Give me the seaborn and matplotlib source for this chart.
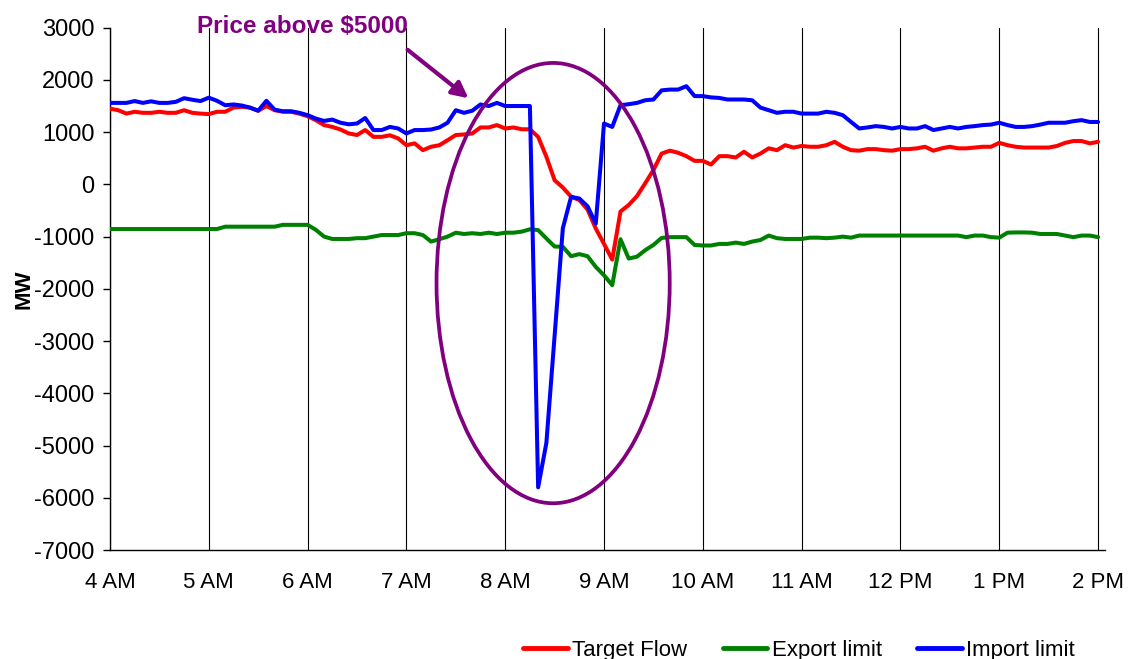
import numpy as np
import pandas as pd
import matplotlib
matplotlib.use('Agg')
import matplotlib.pyplot as plt
import seaborn as sns
from matplotlib.patches import Ellipse
from matplotlib.lines import Line2D

# 5-minute samples, 4 AM .. 2 PM
hours = 4 + np.arange(121) * 5 / 60

target_flow = [
    1450, 1420, 1355, 1390, 1370, 1370, 1390, 1370, 1370, 1420, 1370, 1355, 1345, 1390, 1390,
    1470, 1485, 1470, 1410, 1500, 1420, 1390, 1390, 1355, 1305, 1230, 1135, 1100, 1050, 975,
    945, 1040, 910, 910, 940, 880, 750, 785, 655, 720, 750, 845, 945, 955, 975, 1090, 1090,
    1135, 1070, 1090, 1055, 1055,
    910, 530, 80, -60, -235, -300, -480,
    -845, -1140, -1440, -520, -395, -225, 20, 275, 590, 645, 605, 540, 450, 450, 380, 540,
    540, 515, 625, 515, 590, 690, 655, 750, 705, 735, 720, 720, 750, 815, 720,
    655, 645, 675, 675, 655, 645, 675, 675, 690, 720, 645, 690, 720, 690, 690, 705, 720, 720,
    795, 750, 720, 705, 705, 705, 705, 735, 795, 830, 830, 785, 815,
]

export_limit = [
    -855, -855, -855, -855, -855, -855, -855, -855, -855, -855, -855, -855, -855, -855,
    -810, -810, -810, -810, -810, -810, -810, -775, -775, -775, -775, -870, -1000, -1045,
    -1045, -1045,
    -1030, -1030, -1000, -970, -970, -970, -935, -935, -970, -1095, -1050, -1000, -925, -950,
    -935, -950, -925, -950, -925, -925, -905, -860, -875,
    -1035, -1190, -1195, -1375, -1335, -1375, -1580,
    -1740, -1930, -1050, -1420, -1385, -1260, -1160, -1025, -1010, -1010, -1010, -1160, -1170,
    -1170, -1140, -1140, -1115, -1140, -1095, -1065, -980, -1030, -1045, -1045, -1045, -1020,
    -1020, -1030, -1020, -1000,
    -1020, -980, -980, -980, -980, -980, -980, -980, -980, -980, -980, -980, -980, -980,
    -1010, -980, -980, -1010, -1020, -925, -920, -920, -925, -950, -950, -950, -980, -1010,
    -980, -980, -1010,
]

import_limit = [
    1560, 1560, 1560, 1595, 1560, 1590, 1560, 1560, 1580, 1650, 1620, 1595, 1660, 1600, 1515,
    1530, 1510, 1470, 1410, 1600, 1430, 1400, 1400, 1370, 1325, 1260, 1215, 1240, 1180, 1150,
    1165, 1270, 1040, 1040, 1100, 1070, 975, 1040, 1040, 1050, 1090, 1180, 1420, 1370, 1410,
    1530, 1500, 1560, 1500, 1500, 1500, 1500,
    -5800, -4950, -2900, -840, -240, -270, -420, -750,
    1165, 1100, 1515, 1535, 1560, 1610, 1625, 1800, 1815, 1815, 1880, 1690, 1690, 1665, 1655,
    1625, 1625, 1625, 1610, 1470, 1420, 1370, 1390, 1390, 1355, 1355, 1355, 1390, 1370, 1325,
    1195, 1070, 1090, 1115, 1100, 1070, 1100, 1070, 1070, 1115, 1040, 1070, 1100, 1070, 1100,
    1115, 1135, 1145, 1180, 1135, 1100, 1100, 1115, 1145, 1180, 1180, 1180, 1210, 1230, 1195,
    1195,
]

series_names = ['Target Flow', 'Export limit', 'Import limit']
series_colors = ['#FF0000', '#008000', '#0000FF']
hour_ticks = list(range(4, 15))
hour_labels = ['4 AM', '5 AM', '6 AM', '7 AM', '8 AM', '9 AM', '10 AM',
               '11 AM', '12 PM', '1 PM', '2 PM']
y_ticks = list(range(-7000, 3001, 1000))

sns.set_style('white')
plt.rcParams['font.family'] = ['Liberation Sans', 'DejaVu Sans']
plt.rcParams['axes.unicode_minus'] = False

df = pd.DataFrame({'hour': hours, 'Target Flow': target_flow,
                   'Export limit': export_limit, 'Import limit': import_limit})
long_df = df.melt(id_vars='hour', var_name='series', value_name='MW')

fig = plt.figure(figsize=(11.3, 6.59), dpi=100)
ax = fig.add_axes([0.0973, 0.1654, 0.881, 0.7926])

sns.lineplot(data=long_df, x='hour', y='MW', hue='series', hue_order=series_names,
             palette=dict(zip(series_names, series_colors)), linewidth=2.9,
             legend=False, ax=ax, zorder=3)

ax.set_xlim(4, 14.075)
ax.set_ylim(-7000, 3000)
ax.set_xticks(hour_ticks)
ax.set_xticklabels(hour_labels)
ax.set_yticks(y_ticks)
ax.tick_params(axis='x', length=0, pad=16, labelsize=16, labelcolor='black')
ax.tick_params(axis='y', length=5, width=1, pad=6, labelsize=17, direction='out',
               left=True, color='black', labelcolor='black')
ax.grid(axis='x', color='black', linewidth=0.8)
ax.grid(axis='y', visible=False)
ax.set_xlabel('')
ax.set_ylabel('MW', fontsize=16, fontweight='bold', labelpad=0, color='black')
sns.despine(ax=ax)
for side in ['left', 'bottom']:
    ax.spines[side].set_color('black')
    ax.spines[side].set_linewidth(1)

# highlight of the price spike
purple = '#800080'
ax.add_patch(Ellipse((8.485, -1890), 2.36, 8430, fill=False, edgecolor=purple,
                     linewidth=2.7, zorder=4))
ax.annotate('', xy=(7.65, 1615), xytext=(6.99, 2610),
            arrowprops=dict(arrowstyle='-|>', color=purple, lw=3, mutation_scale=24),
            annotation_clip=False, zorder=5)
ax.text(5.95, 3030, 'Price above $5000', color=purple, fontsize=17.5, fontweight='bold',
        ha='center', va='center', clip_on=False)

handles = [Line2D([], [], color=c, linewidth=3.5, solid_capstyle='round') for c in series_colors]
fig.legend(handles, series_names, loc='center right', bbox_to_anchor=(0.969, 0.013),
           ncol=3, frameon=False, fontsize=16, handlelength=2.0, handletextpad=0.2,
           columnspacing=1.6, labelcolor='black')

fig.savefig('out.png', dpi=100)
